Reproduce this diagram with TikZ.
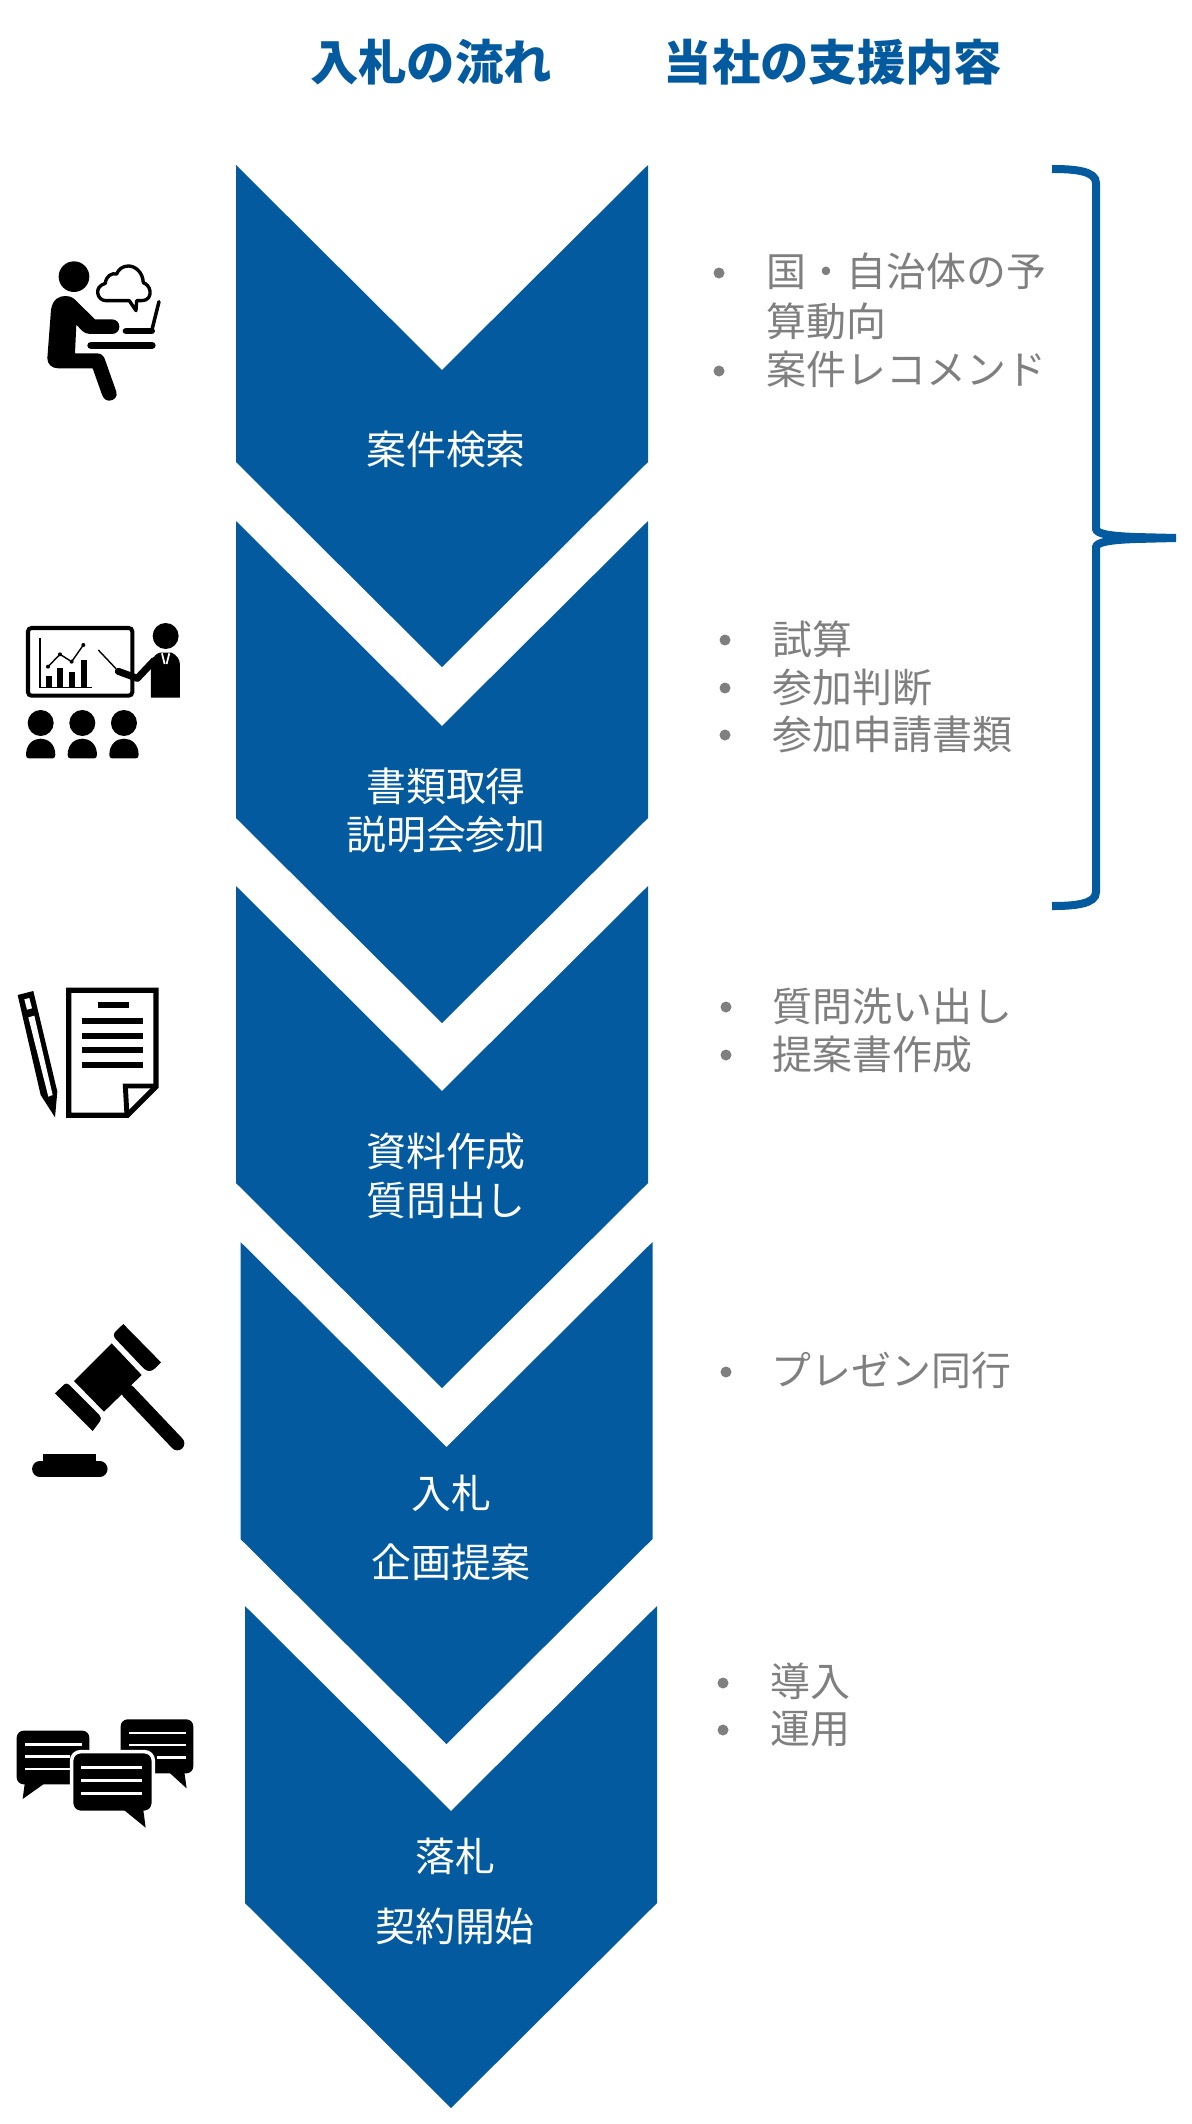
\documentclass[tikz,border=0pt]{standalone}
\usepackage{fontspec}
\setmainfont{Noto Sans CJK JP}
\usepackage{xcolor}
\definecolor{flowblue}{HTML}{045A9E}
\definecolor{notegrey}{HTML}{7F7F7F}
\begin{document}
\begin{tikzpicture}
  [
    x=0.01cm,
    y=-0.01cm,
    headline/.style={
       text=flowblue,
       font=\fontsize{13.75}{16}\selectfont\bfseries,
       text height=0.88em,
       text depth=0.12em,
       inner sep=0pt
    },
    steplabel/.style={
       text=white,
       font=\fontsize{11.35}{13}\selectfont,
       text height=0.88em,
       text depth=0.12em,
       inner sep=0pt
    },
    noteline/.style={
       text=notegrey,
       anchor=west,
       font=\fontsize{11.35}{13}\selectfont,
       text height=0.88em,
       text depth=0.12em,
       inner sep=0pt
    },
    dot/.style={
       circle,
       fill=notegrey,
       minimum size=1.1mm,
       inner sep=0pt
    },
    icon/.style={
       shift={#1},
       scale=.3333
    }
  ]
  \useasboundingbox (0,0) rectangle (1192,2124);

  \foreach \cx/\ty in {442/165, 442/521, 442/886, 446.5/1242, 451/1606}
    \fill [flowblue] (\cx-206,\ty) -- (\cx,\ty+205) -- (\cx+206,\ty) -- (\cx+206,\ty+297)
       -- (\cx,\ty+502) -- (\cx-206,\ty+297) -- cycle;

  \node (headFlow) at (431,67.5) [headline] {入札の流れ};
  \node (headHelp) at (833,67.5) [headline] {当社の支援内容};

  \node (s1a) at (446,451.5)  [steplabel] {案件検索};
  \node (s2a) at (446,788.5)  [steplabel] {書類取得};
  \node (s2b) at (446,836.5)  [steplabel] {説明会参加};
  \node (s3a) at (446,1153.5) [steplabel] {資料作成};
  \node (s3b) at (446,1202.5) [steplabel] {質問出し};
  \node (s4a) at (451,1495.5) [steplabel] {入札};
  \node (s4b) at (451,1564.5) [steplabel] {企画提案};
  \node (s5a) at (455,1858.5) [steplabel] {落札};
  \node (s5b) at (455,1928.5) [steplabel] {契約開始};

  \node (d1a) at (719,273)  [dot] {};
  \node (d1c) at (719,371)  [dot] {};
  \node (d2a) at (725,640)  [dot] {};
  \node (d2b) at (725,688)  [dot] {};
  \node (d2c) at (725,735)  [dot] {};
  \node (d3a) at (726,1007) [dot] {};
  \node (d3b) at (726,1055) [dot] {};
  \node (d4a) at (726,1372) [dot] {};
  \node (d5a) at (723,1683) [dot] {};
  \node (d5b) at (723,1730) [dot] {};

  \node (n1a) at (766,273)  [noteline] {国・自治体の予};
  \node (n1b) at (766,323)  [noteline] {算動向};
  \node (n1c) at (766,371)  [noteline] {案件レコメンド};
  \node (n2a) at (772,641.5)  [noteline] {試算};
  \node (n2b) at (772,689)  [noteline] {参加判断};
  \node (n2c) at (772,736.5)  [noteline] {参加申請書類};
  \node (n3a) at (772,1008.5) [noteline] {質問洗い出し};
  \node (n3b) at (772,1056.5) [noteline] {提案書作成};
  \node (n4a) at (771,1372) [noteline] {プレゼン同行};
  \node (n5a) at (770,1683) [noteline] {導入};
  \node (n5b) at (770,1730) [noteline] {運用};

  \draw [flowblue, line width=2.28pt]
     (1052,169) .. controls (1075,169) and (1096,171) .. (1096,183) -- (1096,529)
     .. controls (1097,534) and (1110,536) .. (1135,537) -- (1176,538);
  \draw [flowblue, line width=2.28pt]
     (1052,906) .. controls (1075,906) and (1096,904) .. (1096,892) -- (1096,547)
     .. controls (1097,542) and (1110,540) .. (1135,539) -- (1176,538);

  \begin{scope}[icon={(0,230)}]
    \fill (222,140) circle (46);
    \fill (153,240) .. controls (158,205) and (180,198) .. (197,198) .. controls (215,198) and (225,208) .. (232,216)
       -- (285,268) -- (335,268) .. controls (350,268) and (358,278) .. (358,290) .. controls (358,304) and (348,312) .. (335,312)
       -- (270,312) .. controls (260,312) and (252,308) .. (246,302) -- (229,284) -- (225,370) -- (290,370)
       .. controls (302,370) and (310,376) .. (314,386) -- (349,485) .. controls (354,500) and (342,512) .. (328,512)
       .. controls (316,512) and (310,504) .. (306,494) -- (278,415) -- (175,415) .. controls (155,415) and (142,402) .. (142,385) -- cycle;
    \draw [line width=2.1pt, line cap=round] (273,346) -- (456,346);
    \draw [line width=1.9pt, line cap=round] (378,303) -- (455,303);
    \draw [line width=1pt, line cap=round] (455,303) -- (477,215);
    \draw [line width=.95pt, line join=round] (388,212) -- (408,242) -- (410,212) -- (425,212)
       .. controls (445,212) and (452,198) .. (450,183) .. controls (448,170) and (440,162) .. (430,158)
       .. controls (428,125) and (405,108) .. (385,108) .. controls (368,108) and (355,118) .. (350,132)
       .. controls (335,128) and (318,138) .. (316,160) .. controls (300,165) and (292,175) .. (293,188)
       .. controls (294,202) and (305,212) .. (318,212) -- cycle;
  \end{scope}

  \begin{scope}[icon={(0,600)}]
    \draw [line width=1.15pt, rounded corners=1pt] (84,84) rectangle (397,287);
    \draw [line width=.4pt] (120,115) -- (120,262) -- (275,262);
    \foreach \bx/\by in {137/228, 172/203, 206/216, 242/180}
      \fill (\bx,\by) rectangle (\bx+18,262);
    \draw [line width=.4pt] (144,200) -- (180,163) -- (215,185) -- (250,135);
    \foreach \px/\py in {144/200, 180/163, 215/185, 250/135}
      \fill (\px,\py) circle (6);
    \draw [line width=.4pt] (295,150) -- (348,206);
    \fill (497,108) circle (39);
    \fill (453,293) -- (453,185) .. controls (460,170) and (470,160) .. (480,158) -- (515,158)
       .. controls (530,165) and (540,178) .. (540,195) -- (540,293) -- cycle;
    \draw [line width=2pt, line cap=round, line join=round] (355,214) -- (412,235) -- (462,182);
    \draw [white, line width=.5pt] (486,160) -- (494,192);
    \draw [white, line width=.5pt] (508,160) -- (500,192);
    \foreach \ax in {122, 247, 372} {
      \fill (\ax,369) circle (39);
      \fill (\ax-44,465) .. controls (\ax-44,432) and (\ax-22,416) .. (\ax,416) .. controls (\ax+22,416) and (\ax+44,432) .. (\ax+44,465)
         .. controls (\ax+44,472) and (\ax+40,475) .. (\ax+36,475) -- (\ax-36,475) .. controls (\ax-40,475) and (\ax-44,472) .. (\ax-44,465) -- cycle;
    }
  \end{scope}

  \begin{scope}[icon={(0,970)}]
    \draw [line width=1.5pt, line join=miter] (206,61) -- (468,61) -- (468,350) -- (382,436) -- (206,436) -- cycle;
    \draw [line width=1.4pt] (381,436) -- (376,348) -- (468,348);
    \fill (293,96) rectangle (386,114);
    \foreach \ly in {145, 188, 232, 275}
      \fill (247,\ly) rectangle (428,\ly+18);
    \fill (53,75) -- (100,63) -- (172,365) -- (165,442) -- (122,375) -- cycle;
    \fill [white] (73,88) -- (88,84) -- (96,115) -- (81,119) -- cycle;
    \fill [white] (85,142) -- (103,137) -- (158,375) -- (145,380) -- cycle;
  \end{scope}

  \begin{scope}[icon={(0,1300)}]
    \fill (335,130) -- (425,225) -- (312,335) -- (222,243) -- cycle;
    \fill (370,72) -- (483,187) -- (465,205) .. controls (455,215) and (443,216) .. (432,206) -- (348,118)
       .. controls (340,110) and (340,100) .. (347,94) -- cycle;
    \fill (165,280) -- (193,253) .. controls (198,249) and (203,250) .. (207,254) -- (298,345) .. controls (304,351) and (304,358) .. (300,364) -- (278,393) -- cycle;
    \draw [line width=4pt, line cap=round] (385,275) -- (532,430);
    \draw [line width=4.3pt, line cap=round] (119,507) -- (300,507);
    \fill (130,462) rectangle (289,495);
  \end{scope}

  \begin{scope}[icon={(0,1690)}]
    \fill [rounded corners=2pt] (50,122) rectangle (268,283);
    \fill (75,275) -- (68,327) -- (130,283) -- (130,275) -- cycle;
    \draw [white, line width=.7pt] (75,163) -- (245,163);
    \draw [white, line width=.7pt] (75,200) -- (210,200);
    \draw [white, line width=.7pt] (75,237) -- (210,237);
    \fill [rounded corners=2pt] (362,88) rectangle (580,250);
    \fill (505,245) -- (560,295) -- (553,245) -- cycle;
    \draw [white, line width=.7pt] (388,129) -- (557,129);
    \draw [white, line width=.7pt] (388,165) -- (557,165);
    \draw [white, line width=.7pt] (470,202) -- (557,202);
    \filldraw [draw=white, line width=1pt, rounded corners=2.5pt] (215,185) rectangle (460,367);
    \fill (372,360) -- (437,413) -- (430,360) -- cycle;
    \draw [white, line width=.75pt] (243,232) -- (427,232);
    \draw [white, line width=.75pt] (243,272) -- (427,272);
    \draw [white, line width=.75pt] (243,311) -- (427,311);
  \end{scope}
\end{tikzpicture}
\end{document}
